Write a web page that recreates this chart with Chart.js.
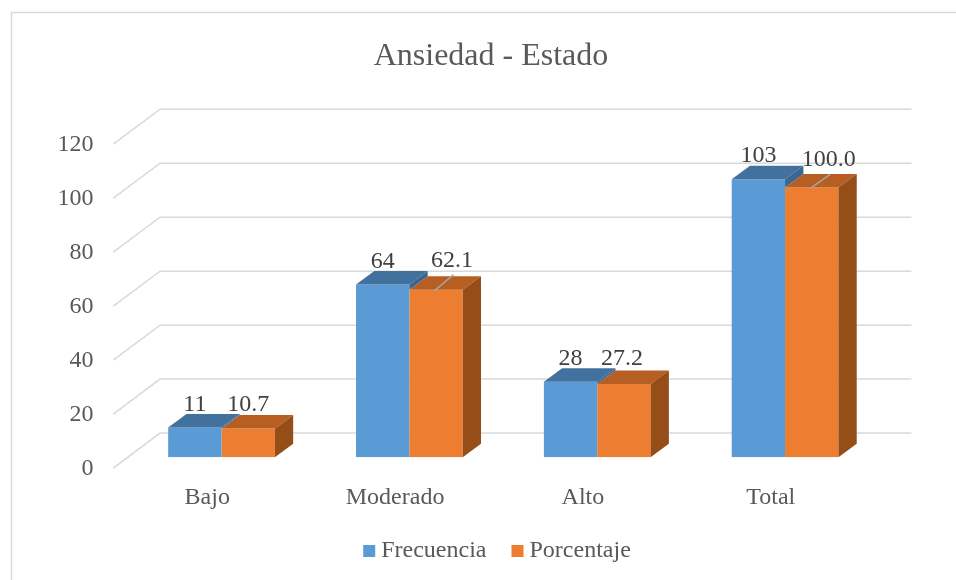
<!DOCTYPE html>
<html>
<head>
<meta charset="utf-8">
<script src="https://cdn.jsdelivr.net/npm/chart.js@4.4.1/dist/chart.umd.min.js"></script>
<style>
  html, body { margin: 0; padding: 0; overflow: hidden; background: #fff; }
  canvas { display: block; }
</style>
</head>
<body>
<canvas id="chart" width="956" height="580"></canvas>
<script>
const categories = ["Bajo", "Moderado", "Alto", "Total"];
const frecuencia = [11, 64, 28, 103];
const porcentaje = [10.7, 62.1, 27.2, 100.0];
const yTicks = [0, 20, 40, 60, 80, 100, 120];
const chartTitle = "Ansiedad - Estado";

const FONT = '"Liberation Serif", "Times New Roman", serif';
const TEXT = "#595959";

// fake 3D: offsets from the bar front plane
const DEPTH = { x: 18.3, y: -13.5 };   // bar thickness
const WALL = { x: 32.4, y: -24.2 };    // back wall
const FLOOR = { x: -14.3, y: 10.8 };   // front edge of the floor
const faces = [
  { top: "#41719C", side: "#3A6690" },
  { top: "#B75E22", side: "#964E19" }
];
// Excel pushed two of the orange labels aside (with a leader line)
const nudges = [
  [[0, 0], [0, 0], [0, 0], [0, 0]],
  [[0, 0], [16, -6], [-2, -2], [17, -4]]
];

const pad = { left: 40, right: 77, top: 133.4, bottom: 62.7 };

const plot3d = {
  id: "plot3d",
  beforeDatasetsDraw(chart) {
    const { ctx, chartArea, scales: { y } } = chart;
    ctx.save();
    ctx.strokeStyle = "#d9d9d9";
    ctx.lineWidth = 1.5;
    yTicks.forEach(v => {
      const py = y.getPixelForValue(v);
      ctx.beginPath();
      ctx.moveTo(chartArea.left + FLOOR.x, py + FLOOR.y);
      ctx.lineTo(chartArea.left + WALL.x, py + WALL.y);
      ctx.lineTo(chartArea.right + WALL.x, py + WALL.y);
      ctx.stroke();
    });
    ctx.restore();
  },
  // datasets are painted last-to-first, so orange comes before blue
  afterDatasetDraw(chart, args) {
    const ctx = chart.ctx;
    const f = faces[args.index];
    const next = args.index + 1 < chart.data.datasets.length ? chart.getDatasetMeta(args.index + 1) : null;
    ctx.save();
    args.meta.data.forEach((bar, i) => {
      const { x, y, base, width } = bar.getProps(["x", "y", "base", "width"], true);
      const l = x - width / 2, r = x + width / 2;
      ctx.fillStyle = f.top;
      ctx.beginPath();
      ctx.moveTo(l, y);
      ctx.lineTo(l + DEPTH.x, y + DEPTH.y);
      ctx.lineTo(r + DEPTH.x, y + DEPTH.y);
      ctx.lineTo(r, y);
      ctx.closePath();
      ctx.fill();
      // side: only the part not hidden behind the neighbouring bar
      const bottom = next ? next.data[i].y : base;
      if (bottom > y) {
        ctx.fillStyle = f.side;
        ctx.beginPath();
        ctx.moveTo(r, y);
        ctx.lineTo(r + DEPTH.x, y + DEPTH.y);
        ctx.lineTo(r + DEPTH.x, bottom + DEPTH.y);
        ctx.lineTo(r, bottom);
        ctx.closePath();
        ctx.fill();
      }
    });
    ctx.restore();
  },
  afterDatasetsDraw(chart) {
    const ctx = chart.ctx;
    ctx.save();
    ctx.font = `24px ${FONT}`;
    ctx.textAlign = "center";
    ctx.textBaseline = "alphabetic";
    chart.data.datasets.forEach((ds, di) => {
      chart.getDatasetMeta(di).data.forEach((bar, i) => {
        const [dx, dy] = nudges[di][i];
        const lx = bar.x + dx, ly = bar.y - 17 + dy;
        if (dx > 5) {
          ctx.strokeStyle = "#a6a6a6";
          ctx.lineWidth = 1.5;
          ctx.beginPath();
          ctx.moveTo(bar.x - 1.5, bar.y + 1);
          ctx.lineTo(lx + 1.5, ly + 8);
          ctx.stroke();
        }
        ctx.fillStyle = "#404040";
        const txt = di === 1 ? ds.data[i].toFixed(1) : String(ds.data[i]);
        ctx.fillText(txt, lx, ly);
      });
    });
    ctx.restore();
  },
  afterDraw(chart) {
    const ctx = chart.ctx;
    ctx.save();
    // title
    ctx.fillStyle = TEXT;
    ctx.font = `32px ${FONT}`;
    ctx.textAlign = "center";
    ctx.textBaseline = "alphabetic";
    ctx.fillText(chartTitle, 491, 65);
    // legend
    ctx.font = `24px ${FONT}`;
    ctx.textBaseline = "middle";
    ctx.textAlign = "left";
    const box = 12, gap = 6, spacing = 25;
    const items = chart.data.datasets.map(d => ({
      text: d.label, color: d.backgroundColor, w: ctx.measureText(d.label).width
    }));
    const total = items.reduce((s, it) => s + box + gap + it.w, 0) + spacing * (items.length - 1);
    let x = 497 - total / 2;
    const cy = 551;
    items.forEach(it => {
      ctx.fillStyle = it.color;
      ctx.fillRect(x, cy - box / 2, box, box);
      ctx.fillStyle = TEXT;
      ctx.fillText(it.text, x + box + gap, cy);
      x += box + gap + it.w + spacing;
    });
    // outer frame
    ctx.strokeStyle = "#d9d9d9";
    ctx.lineWidth = 1.5;
    ctx.strokeRect(11.5, 12.5, 2000, 2000);
    ctx.restore();
  }
};

new Chart(document.getElementById("chart"), {
  type: "bar",
  data: {
    labels: categories,
    datasets: [
      { label: "Frecuencia", data: frecuencia, backgroundColor: "#5B9BD5" },
      { label: "Porcentaje", data: porcentaje, backgroundColor: "#ED7D31" }
    ]
  },
  options: {
    responsive: false,
    animation: false,
    devicePixelRatio: 1,
    layout: { padding: pad },
    datasets: {
      bar: { categoryPercentage: 0.568, barPercentage: 1, borderWidth: 0 }
    },
    plugins: {
      legend: { display: false },
      tooltip: { enabled: false },
      title: { display: false }
    },
    scales: {
      x: {
        grid: { display: false, drawTicks: false },
        border: { display: false },
        ticks: { padding: 26, labelOffset: -14.3, color: TEXT, font: { family: FONT, size: 24 } },
        afterFit(scale) { scale.height = 60; }
      },
      y: {
        min: 0,
        max: 120,
        grid: { display: false, drawTicks: false },
        border: { display: false },
        ticks: { stepSize: 20, padding: 34, labelOffset: 11, color: TEXT, font: { family: FONT, size: 24 } },
        afterFit(scale) { scale.width = 127.6 - pad.left; }
      }
    }
  },
  plugins: [plot3d]
});
</script>
</body>
</html>
